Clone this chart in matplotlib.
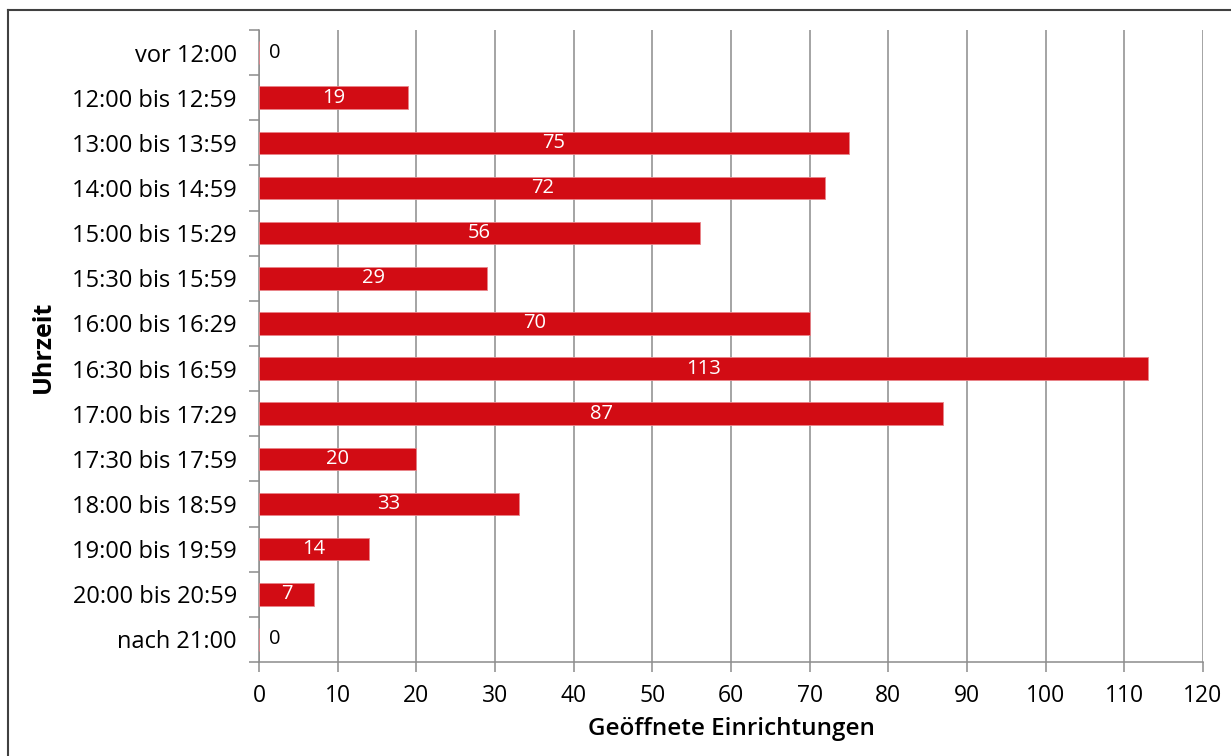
import matplotlib
matplotlib.use("Agg")
import matplotlib.pyplot as plt
from matplotlib.lines import Line2D
from matplotlib.ticker import FixedLocator, NullFormatter

plt.rcParams['font.family'] = ['Open Sans', 'DejaVu Sans']

categories = [
    "vor 12:00", "12:00 bis 12:59", "13:00 bis 13:59", "14:00 bis 14:59",
    "15:00 bis 15:29", "15:30 bis 15:59", "16:00 bis 16:29", "16:30 bis 16:59",
    "17:00 bis 17:29", "17:30 bis 17:59", "18:00 bis 18:59", "19:00 bis 19:59",
    "20:00 bis 20:59", "nach 21:00",
]
values = [0, 19, 75, 72, 56, 29, 70, 113, 87, 20, 33, 14, 7, 0]
x_ticks = list(range(0, 121, 10))

bar_color = "#D20C14"
grid_color = "#8C8C8C"

fig = plt.figure(figsize=(12.31, 7.56), dpi=100)
ax = fig.add_axes([259 / 1231, 1 - 662 / 756, (1203 - 259) / 1231, (662 - 30) / 756])

n = len(categories)
ypos = list(range(n))
ax.barh(ypos, values, height=0.5, color=bar_color, edgecolor="#E8848A",
        linewidth=0.6, zorder=3)

ax.set_xlim(0, 120)
ax.set_ylim(n - 0.5, -0.5)

# Value labels: white inside bars, dark next to the axis for empty categories
for y, v in zip(ypos, values):
    if v > 0:
        ax.text(v / 2, y, str(v), ha="center", va="center", color="white",
                fontsize=14.5, zorder=4)
    else:
        ax.annotate(str(v), (0, y), xytext=(7, 0), textcoords="offset points",
                    ha="left", va="center", color="black", fontsize=14.5, zorder=4)

# Vertical gridlines at every major tick
ax.set_xticks(x_ticks)
ax.set_xticklabels([str(t) for t in x_ticks], fontsize=16.5)
ax.xaxis.grid(True, color=grid_color, linewidth=1.1, zorder=0)
ax.tick_params(axis="x", direction="out", length=7, color=grid_color, width=1.1, pad=9)

# Category labels centered, tick marks on the boundaries between categories
ax.set_yticks(ypos)
ax.set_yticklabels(categories, fontsize=17)
ax.tick_params(axis="y", which="major", length=0, pad=16)
ax.yaxis.set_minor_locator(FixedLocator([i - 0.5 for i in range(n + 1)]))
ax.yaxis.set_minor_formatter(NullFormatter())
ax.tick_params(axis="y", which="minor", direction="out", length=7,
               color=grid_color, width=1.1)

for side in ("top", "right"):
    ax.spines[side].set_visible(False)
for side in ("left", "bottom"):
    ax.spines[side].set_color(grid_color)
    ax.spines[side].set_linewidth(1.1)

ax.set_xlabel("Geöffnete Einrichtungen", fontsize=17.5, fontweight="semibold", labelpad=6)
fig.text(43 / 1231, 1 - 347 / 756, "Uhrzeit", rotation=90, ha="center", va="center",
         fontsize=18, fontweight="bold")

# Outer frame along the top and left edges
fig.add_artist(Line2D([8 / 1231, 8 / 1231], [0, 1 - 10 / 756], transform=fig.transFigure,
                      color="#404040", linewidth=1.5))
fig.add_artist(Line2D([8 / 1231, 1], [1 - 10 / 756, 1 - 10 / 756], transform=fig.transFigure,
                      color="#404040", linewidth=1.5))

fig.savefig("out.png", dpi=100)
